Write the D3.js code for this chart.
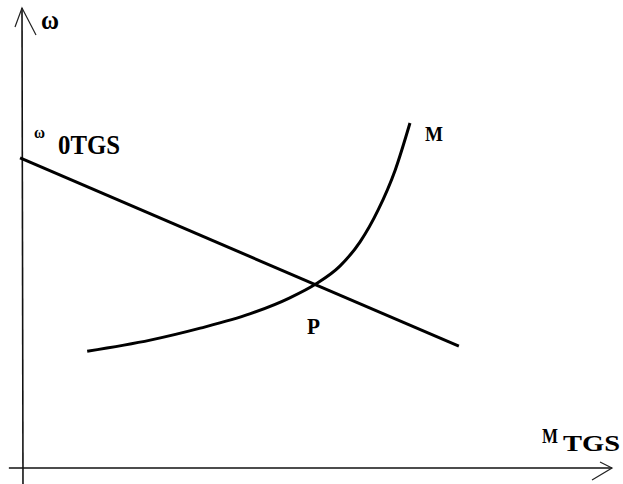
<!DOCTYPE html>
<html>
<head>
<meta charset="utf-8">
<script src="https://cdn.jsdelivr.net/npm/d3@7"></script>
<style>
  html, body { margin: 0; padding: 0; background: #fff; }
  svg { display: block; }
  .lbl { font-family: "Liberation Serif", "Times New Roman", serif; font-weight: bold; fill: #000; }
</style>
</head>
<body>
<div id="chart"></div>
<script>
// load line of the generator (straight) : omega vs torque
const loadX = [-0.5, 74.0];
const loadY = [67.4, 26.5];

// mechanical characteristic M (curve)
const curveX = [10.9, 21.6, 30.1, 38.5, 45.3, 49.7, 53.8, 57.2, 60.3, 63.2, 65.7];
const curveY = [25.4, 27.8, 30.4, 33.5, 37.0, 40.0, 43.9, 49.1, 56.1, 64.8, 75.0];

const width = 623, height = 484;

const svg = d3.select('#chart')
    .append('svg')
    .attr('width', width)
    .attr('height', height);

//scales - origin at the axes crossing
const x = d3.scaleLinear().domain([0, 100]).range([23, 612]);
const y = d3.scaleLinear().domain([0, 100]).range([468, 8]);

// axes
svg.append('line')
    .attr('x1', x(-2.4)).attr('y1', y(0))
    .attr('x2', x(100)).attr('y2', y(0))
    .attr('stroke', '#111').attr('stroke-width', 1.6);

svg.append('line')
    .attr('x1', x(0)).attr('y1', y(-3.5))
    .attr('x2', x(0) - 1).attr('y2', y(100))
    .attr('stroke', '#111').attr('stroke-width', 1.6);

// arrow heads (open)
svg.append('path')
    .attr('d', `M15,27 L${x(0) - 1},${y(100)} L36,35`)
    .attr('fill', 'none').attr('stroke', '#222').attr('stroke-width', 1.2);

svg.append('path')
    .attr('d', `M600,462 L${x(100)},${y(0)} L592,480`)
    .attr('fill', 'none').attr('stroke', '#222').attr('stroke-width', 1.2);

// straight line
const lineGen = d3.line().x(d => x(d[0])).y(d => y(d[1]));

svg.append('path')
    .datum(d3.zip(loadX, loadY))
    .attr('d', lineGen)
    .attr('fill', 'none')
    .attr('stroke', '#000')
    .attr('stroke-width', 3);

// curve M
svg.append('path')
    .datum(d3.zip(curveX, curveY))
    .attr('d', lineGen.curve(d3.curveMonotoneX))
    .attr('fill', 'none')
    .attr('stroke', '#000')
    .attr('stroke-width', 3);

// labels
svg.append('text').classed('lbl', true)
    .attr('x', 41).attr('y', 29)
    .attr('textLength', 18).attr('lengthAdjust', 'spacingAndGlyphs')
    .style('font-size', '27px')
    .text('ω');

svg.append('text').classed('lbl', true)
    .attr('x', 34).attr('y', 138)
    .attr('textLength', 11).attr('lengthAdjust', 'spacingAndGlyphs')
    .style('font-size', '16px')
    .text('ω');

svg.append('text').classed('lbl', true)
    .attr('x', 58).attr('y', 154)
    .attr('textLength', 62).attr('lengthAdjust', 'spacingAndGlyphs')
    .style('font-size', '27px')
    .text('0TGS');

svg.append('text').classed('lbl', true)
    .attr('x', 425).attr('y', 141)
    .attr('textLength', 18).attr('lengthAdjust', 'spacingAndGlyphs')
    .style('font-size', '22px')
    .text('M');

svg.append('text').classed('lbl', true)
    .attr('x', 307).attr('y', 334)
    .attr('textLength', 13).attr('lengthAdjust', 'spacingAndGlyphs')
    .style('font-size', '24px')
    .text('P');

svg.append('text').classed('lbl', true)
    .attr('x', 542).attr('y', 443)
    .attr('textLength', 16).attr('lengthAdjust', 'spacingAndGlyphs')
    .style('font-size', '22px')
    .text('M');

svg.append('text').classed('lbl', true)
    .attr('x', 563).attr('y', 451)
    .attr('textLength', 57).attr('lengthAdjust', 'spacingAndGlyphs')
    .style('font-size', '23px')
    .text('TGS');
</script>
</body>
</html>
